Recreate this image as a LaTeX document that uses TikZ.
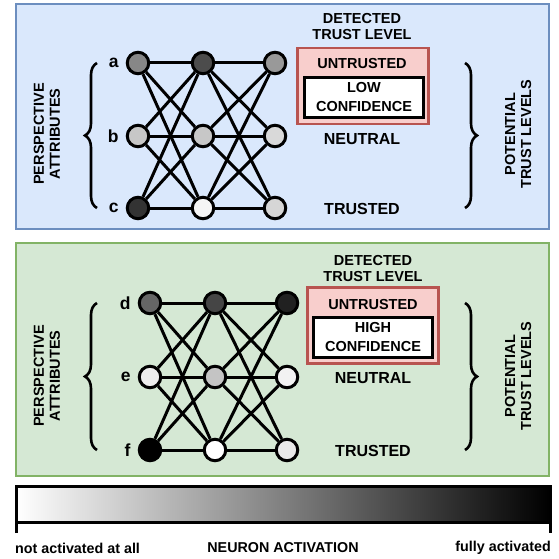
\documentclass[tikz,border=0pt]{standalone}
\usepackage{fontspec}
\setmainfont{Liberation Sans}
\usepackage{tikz}
\usetikzlibrary{calc,positioning,decorations.pathreplacing}

\definecolor{blueFill}{HTML}{DAE8FC}
\definecolor{blueLine}{HTML}{6C8EBF}
\definecolor{greenFill}{HTML}{D5E8D4}
\definecolor{greenLine}{HTML}{82B366}
\definecolor{redFill}{HTML}{F8CECC}
\definecolor{redLine}{HTML}{B85450}

\begin{document}
\begin{tikzpicture}[x=1pt, y=-1pt,
      neuron/.style={
        circle, draw, line width=3pt,
        inner sep=0pt, minimum size=21.5pt
      },
      edge/.style={line width=3pt},
      letter/.style={font=\fontsize{17.5}{17.5}\selectfont\bfseries, inner sep=1pt},
      level/.style={font=\fontsize{16}{16}\selectfont\bfseries, inner sep=0pt},
      small/.style={font=\fontsize{14.5}{16}\selectfont\bfseries, inner sep=0pt, align=center},
      redbox/.style={draw=redLine, fill=redFill, line width=2.5pt,
        minimum width=131pt, minimum height=76pt, inner sep=0pt},
      confbox/.style={draw, fill=white, line width=3pt, align=center,
        minimum width=119pt, minimum height=40pt, inner sep=0pt,
        font=\fontsize{14.5}{19}\selectfont\bfseries},
      brc/.style={decorate, decoration={brace, amplitude=12pt}, line width=2.6pt},
      foot/.style={font=\fontsize{14.3}{16}\selectfont\bfseries, inner sep=0pt}
    ]
      \useasboundingbox (0,0) rectangle (559,559);

      % panels
      \draw[line width=2.5pt, draw=blueLine, fill=blueFill] (16,4) rectangle (549,229);
      \draw[line width=2.5pt, draw=greenLine, fill=greenFill] (16,243) rectangle (549,476);

      % upper network
      \foreach \n/\x/\y/\g in {a1/138/63/47, a2/203/63/70, a3/275/63/40,
                               b1/138/136/22, b2/203/136/22, b3/275/136/15,
                               c1/138/208/80, c2/203/208/4, c3/275/208/16} {
        \node[neuron, fill=black!\g] (\n) at (\x,\y){};
      }
      \foreach \i in {a,b,c} {
        \foreach \j in {a,b,c} {
          \draw[edge] (\i1) -- (\j2);
          \draw[edge] (\i2) -- (\j3);
        }
      }
      \node[letter, left=6pt of a1] (la) {a};
      \node[letter, left=6pt of b1] (lb) {b};
      \node[letter, left=6pt of c1] (lc) {c};

      \node[small] (det1) at ($(a3)+(87,-36)$) {DETECTED\\TRUST LEVEL};
      \node[redbox] (red1) at ($(a3)+(88,23)$){};
      \node[small] (un1) at ($(a3)+(87,1)$) {UNTRUSTED};
      \node[confbox] (conf1) at ($(a3)+(89,34.5)$) {LOW\\CONFIDENCE};
      \node[level] (neu1) at ($(b3)+(87,3)$) {NEUTRAL};
      \node[level] (tru1) at ($(c3)+(87,1)$) {TRUSTED};

      \draw[brc] (97,208) -- (97,63);
      \draw[brc] (465,63) -- (465,208);
      \node[small, rotate=90] (pa1) at (47,134) {PERSPECTIVE\\ATTRIBUTES};
      \node[small, rotate=90] (pt1) at (518,134) {POTENTIAL\\TRUST LEVELS};

      % lower network
      \foreach \n/\x/\y/\g in {d1/150/303/60, d2/215/303/73, d3/287/303/87,
                               e1/150/377/7, e2/215/377/23, e3/287/377/5,
                               f1/150/450/100, f2/215/450/0, f3/287/450/9} {
        \node[neuron, fill=black!\g] (\n) at (\x,\y){};
      }
      \foreach \i in {d,e,f} {
        \foreach \j in {d,e,f} {
          \draw[edge] (\i1) -- (\j2);
          \draw[edge] (\i2) -- (\j3);
        }
      }
      \node[letter, left=6pt of d1] (ld) {d};
      \node[letter, left=6pt of e1] (le) {e};
      \node[letter, left=6pt of f1] (lf) {f};

      \node[small] (det2) at ($(d3)+(86,-34.5)$) {DETECTED\\TRUST LEVEL};
      \node[redbox] (red2) at ($(d3)+(86,22.5)$){};
      \node[small] (un2) at ($(d3)+(86,2)$) {UNTRUSTED};
      \node[confbox] (conf2) at ($(d3)+(86,34)$) {HIGH\\CONFIDENCE};
      \node[level] (neu2) at ($(e3)+(86,1)$) {NEUTRAL};
      \node[level] (tru2) at ($(f3)+(86,1)$) {TRUSTED};

      \draw[brc] (97,450) -- (97,303);
      \draw[brc] (465,303) -- (465,450);
      \node[small, rotate=90] (pa2) at (47,376) {PERSPECTIVE\\ATTRIBUTES};
      \node[small, rotate=90] (pt2) at (518,376) {POTENTIAL\\TRUST LEVELS};

      % activation scale
      \shade[left color=white, right color=black] (16,486) rectangle (550,522);
      \draw[line width=3pt] (16,533) -- (16,486) -- (550,486) -- (550,533);
      \draw[line width=3pt] (16,522) -- (550,522);
      \node[foot, anchor=west] (lo) at (15,548) {not activated at all};
      \node[foot] (mid) at (283,548) {NEURON ACTIVATION};
      \node[foot, anchor=east] (hi) at (551,548) {fully activated};
    \end{tikzpicture}
\end{document}
